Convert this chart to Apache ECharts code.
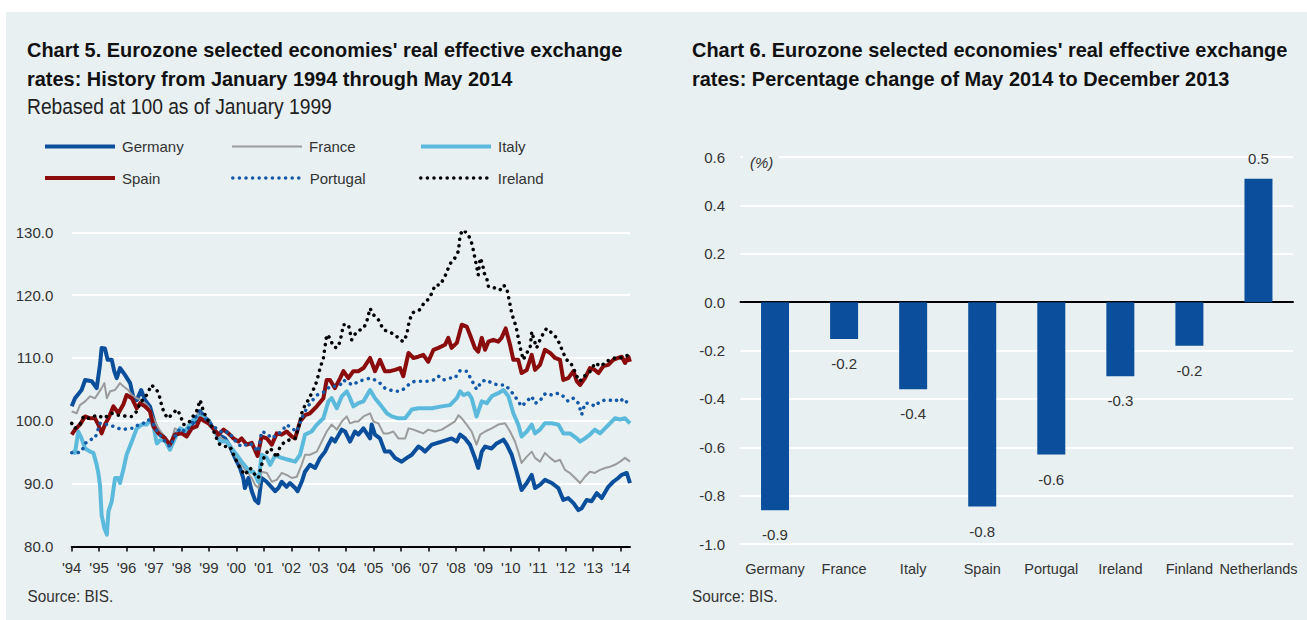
<!DOCTYPE html>
<html>
<head>
<meta charset="utf-8">
<title>Eurozone real effective exchange rates</title>
<script src="https://cdn.jsdelivr.net/npm/echarts@6/dist/echarts.min.js"></script>
<style>
  html, body { margin: 0; padding: 0; background: #fff; }
  #chart { width: 1307px; height: 620px; }
</style>
</head>
<body>
<div id="chart"></div>
<script>
// Chart 5 - REER, Jan 1999 = 100, points as [decimal year, index]
var germany = [[1994.00,102.3],[1994.12,103.6],[1994.36,104.9],[1994.49,106.5],[1994.73,106.3],[1994.91,105.2],[1995.03,108.9],[1995.09,111.6],[1995.21,111.5],[1995.31,109.7],[1995.46,109.7],[1995.55,107.9],[1995.64,106.8],[1995.76,108.4],[1995.94,107.3],[1996.13,106.0],[1996.25,103.6],[1996.37,103.3],[1996.53,104.9],[1996.67,103.3],[1996.85,102.3],[1997.04,99.4],[1997.16,98.3],[1997.40,97.2],[1997.58,95.8],[1997.76,97.8],[1998.01,98.6],[1998.19,98.0],[1998.37,99.4],[1998.55,100.2],[1998.68,101.5],[1998.80,100.7],[1999.00,100.0],[1999.10,99.1],[1999.34,97.8],[1999.59,97.2],[1999.77,95.9],[1999.95,94.1],[2000.13,92.5],[2000.25,90.9],[2000.31,89.3],[2000.44,90.9],[2000.56,88.8],[2000.68,87.4],[2000.80,86.9],[2000.92,90.9],[2001.10,90.3],[2001.41,88.8],[2001.53,89.3],[2001.65,90.3],[2001.83,89.5],[2001.95,90.1],[2002.14,89.3],[2002.23,88.8],[2002.38,90.3],[2002.50,91.9],[2002.68,93.0],[2002.87,92.5],[2003.05,94.1],[2003.23,95.1],[2003.35,96.2],[2003.47,97.2],[2003.59,96.7],[2003.84,98.6],[2003.96,98.3],[2004.14,96.7],[2004.32,98.3],[2004.44,97.8],[2004.63,98.8],[2004.75,98.0],[2004.87,97.2],[2004.93,99.4],[2005.05,97.8],[2005.23,97.2],[2005.41,95.1],[2005.60,95.1],[2005.78,94.1],[2006.02,93.5],[2006.21,94.1],[2006.39,94.6],[2006.63,95.9],[2006.75,95.6],[2006.87,95.1],[2007.12,96.2],[2007.48,96.7],[2007.84,97.2],[2008.03,96.7],[2008.15,97.8],[2008.33,97.2],[2008.51,96.2],[2008.69,94.1],[2008.81,92.5],[2008.94,95.1],[2009.06,95.9],[2009.30,95.6],[2009.48,96.4],[2009.73,97.0],[2009.85,96.2],[2010.03,94.6],[2010.21,91.9],[2010.39,89.0],[2010.58,90.1],[2010.76,91.4],[2010.88,89.3],[2011.06,89.8],[2011.24,90.6],[2011.49,90.1],[2011.73,89.3],[2011.91,87.4],[2012.09,87.7],[2012.28,86.9],[2012.46,85.8],[2012.58,86.1],[2012.76,87.4],[2012.94,87.2],[2013.13,88.5],[2013.31,87.7],[2013.55,89.5],[2013.73,90.3],[2013.91,90.9],[2014.04,91.4],[2014.22,91.7],[2014.34,90.1]];

var france = [[1994.00,101.5],[1994.18,101.2],[1994.30,102.5],[1994.49,103.1],[1994.67,103.9],[1994.85,103.6],[1994.97,104.4],[1995.09,105.2],[1995.19,106.0],[1995.28,103.6],[1995.40,104.7],[1995.58,104.9],[1995.76,106.0],[1995.88,105.5],[1996.06,104.9],[1996.19,104.1],[1996.37,103.6],[1996.55,103.3],[1996.79,102.3],[1996.98,100.4],[1997.16,98.8],[1997.40,97.2],[1997.58,96.2],[1997.76,98.8],[1997.95,98.3],[1998.13,98.6],[1998.31,99.4],[1998.49,100.7],[1998.68,101.5],[1998.86,100.2],[1999.04,99.4],[1999.22,98.6],[1999.46,97.2],[1999.65,96.7],[1999.83,95.6],[2000.01,94.1],[2000.19,93.0],[2000.38,91.9],[2000.56,90.9],[2000.68,89.8],[2000.80,89.3],[2000.92,91.9],[2001.11,91.7],[2001.29,90.3],[2001.47,90.6],[2001.65,91.7],[2001.83,91.4],[2002.02,90.9],[2002.20,91.1],[2002.38,93.0],[2002.50,94.6],[2002.68,94.6],[2002.93,95.1],[2003.11,96.7],[2003.29,98.3],[2003.47,99.4],[2003.66,98.6],[2003.84,99.9],[2004.02,100.7],[2004.14,99.6],[2004.32,99.9],[2004.44,99.9],[2004.63,100.7],[2004.87,101.2],[2004.99,99.9],[2005.17,99.6],[2005.36,98.0],[2005.54,98.0],[2005.72,98.3],[2005.90,97.2],[2006.15,97.2],[2006.27,98.8],[2006.45,98.6],[2006.63,98.3],[2006.81,98.0],[2006.99,98.6],[2007.24,98.3],[2007.48,98.6],[2007.78,99.4],[2007.96,99.9],[2008.09,100.9],[2008.21,100.4],[2008.39,99.4],[2008.57,98.3],[2008.75,96.2],[2008.88,97.8],[2009.06,98.3],[2009.30,98.8],[2009.54,99.4],[2009.79,99.6],[2009.97,98.3],[2010.15,96.7],[2010.27,95.1],[2010.39,93.3],[2010.58,94.3],[2010.76,95.1],[2010.88,94.1],[2011.06,93.5],[2011.24,94.9],[2011.43,94.1],[2011.61,93.5],[2011.79,93.8],[2011.97,92.2],[2012.15,91.7],[2012.34,90.9],[2012.52,90.1],[2012.70,91.1],[2012.88,91.9],[2013.06,91.7],[2013.25,92.2],[2013.43,92.5],[2013.61,92.7],[2013.79,93.0],[2013.98,93.5],[2014.16,94.1],[2014.34,93.5]];

var italy = [[1994.00,95.1],[1994.12,94.9],[1994.24,98.3],[1994.36,97.2],[1994.49,95.6],[1994.67,95.1],[1994.79,94.9],[1994.91,93.0],[1994.97,91.7],[1995.03,89.8],[1995.09,85.0],[1995.19,82.9],[1995.28,81.9],[1995.34,85.6],[1995.46,87.2],[1995.58,90.9],[1995.70,90.9],[1995.76,90.1],[1995.88,92.2],[1996.00,94.6],[1996.19,96.7],[1996.37,98.8],[1996.55,99.4],[1996.73,99.4],[1996.85,100.2],[1996.98,99.1],[1997.10,96.4],[1997.22,96.9],[1997.40,96.9],[1997.58,95.4],[1997.76,97.2],[1997.95,98.8],[1998.13,98.3],[1998.37,99.9],[1998.61,100.7],[1998.80,100.7],[1998.98,99.9],[1999.16,98.8],[1999.40,96.7],[1999.65,96.7],[1999.83,95.6],[2000.01,94.6],[2000.19,93.5],[2000.38,92.5],[2000.50,91.9],[2000.62,91.9],[2000.80,90.3],[2000.92,94.6],[2001.11,94.1],[2001.23,93.0],[2001.41,94.5],[2001.65,94.1],[2001.89,93.8],[2002.14,93.5],[2002.32,94.6],[2002.50,97.8],[2002.74,98.3],[2002.93,99.4],[2003.17,100.4],[2003.35,103.1],[2003.47,103.6],[2003.66,102.0],[2003.84,103.9],[2004.02,104.7],[2004.14,103.6],[2004.26,102.3],[2004.44,102.8],[2004.63,103.1],[2004.87,104.9],[2005.05,103.6],[2005.29,102.3],[2005.48,101.2],[2005.66,100.7],[2005.90,100.4],[2006.15,100.4],[2006.39,101.8],[2006.63,102.0],[2006.87,102.0],[2007.12,102.0],[2007.48,102.3],[2007.78,102.5],[2008.03,103.6],[2008.15,104.7],[2008.27,104.1],[2008.45,104.4],[2008.57,103.6],[2008.75,100.7],[2008.94,103.1],[2009.12,102.8],[2009.30,103.9],[2009.54,104.4],[2009.73,104.9],[2009.91,103.9],[2010.09,101.2],[2010.27,99.4],[2010.39,97.5],[2010.58,98.3],[2010.76,99.4],[2010.88,98.0],[2011.06,98.6],[2011.24,99.6],[2011.49,99.6],[2011.73,99.4],[2011.91,98.0],[2012.15,98.0],[2012.40,97.2],[2012.52,96.7],[2012.70,97.2],[2012.88,97.8],[2013.06,98.6],[2013.25,98.0],[2013.43,98.8],[2013.61,99.6],[2013.79,100.4],[2013.98,100.2],[2014.16,100.4],[2014.34,99.6]];

var spain = [[1994.00,97.8],[1994.12,98.6],[1994.30,99.4],[1994.49,100.7],[1994.67,100.4],[1994.85,100.4],[1994.97,99.4],[1995.09,98.0],[1995.21,99.4],[1995.34,100.4],[1995.52,102.3],[1995.70,101.2],[1995.88,102.6],[1996.00,104.1],[1996.19,103.6],[1996.37,102.0],[1996.49,102.8],[1996.67,102.3],[1996.85,101.5],[1996.98,99.1],[1997.16,98.0],[1997.40,97.2],[1997.58,96.2],[1997.76,97.8],[1998.01,98.0],[1998.19,97.5],[1998.37,98.8],[1998.55,99.1],[1998.68,100.4],[1998.86,99.9],[1998.98,99.6],[1999.16,98.8],[1999.34,97.8],[1999.53,98.6],[1999.71,98.0],[1999.89,97.2],[2000.07,96.7],[2000.19,97.2],[2000.38,96.2],[2000.56,96.5],[2000.77,94.4],[2000.92,97.5],[2001.11,97.2],[2001.29,96.2],[2001.47,98.0],[2001.65,97.8],[2001.83,98.3],[2002.02,97.5],[2002.14,97.2],[2002.32,99.9],[2002.50,100.9],[2002.68,101.2],[2002.93,102.3],[2003.17,103.6],[2003.29,106.5],[2003.41,106.5],[2003.59,105.2],[2003.78,106.8],[2003.90,107.9],[2004.08,106.8],[2004.26,107.9],[2004.44,107.9],[2004.63,108.4],[2004.87,110.0],[2005.05,107.9],[2005.23,109.7],[2005.41,107.9],[2005.60,107.9],[2005.78,108.1],[2005.96,108.4],[2006.08,107.1],[2006.27,110.8],[2006.45,110.0],[2006.63,110.2],[2006.81,110.5],[2006.99,109.4],[2007.18,111.3],[2007.36,111.6],[2007.60,112.1],[2007.72,113.2],[2007.84,111.6],[2008.03,112.4],[2008.21,115.3],[2008.39,115.0],[2008.51,113.7],[2008.69,111.6],[2008.81,111.0],[2008.94,113.2],[2009.06,111.3],[2009.18,112.6],[2009.36,112.9],[2009.54,112.6],[2009.66,113.2],[2009.81,114.7],[2009.97,112.1],[2010.09,109.7],[2010.27,109.7],[2010.39,107.6],[2010.58,108.1],[2010.76,110.5],[2010.88,108.1],[2011.06,108.9],[2011.24,111.3],[2011.43,110.8],[2011.61,110.0],[2011.79,109.7],[2011.91,106.5],[2012.09,106.8],[2012.28,107.9],[2012.40,106.3],[2012.52,105.7],[2012.70,106.8],[2012.88,108.4],[2013.06,108.1],[2013.19,107.6],[2013.37,108.7],[2013.55,108.9],[2013.73,109.7],[2013.91,110.0],[2014.04,110.2],[2014.16,109.2],[2014.28,110.2],[2014.34,109.4]];

var portugal = [[1994.00,94.9],[1994.18,94.9],[1994.36,95.1],[1994.49,96.4],[1994.67,97.0],[1994.85,97.2],[1995.03,99.6],[1995.15,99.4],[1995.34,99.4],[1995.52,99.1],[1995.70,98.8],[1995.88,98.6],[1996.06,98.8],[1996.25,98.8],[1996.43,99.4],[1996.61,99.6],[1996.79,100.2],[1996.98,99.4],[1997.16,98.0],[1997.40,96.7],[1997.58,95.9],[1997.76,97.5],[1997.95,98.8],[1998.13,98.3],[1998.31,99.1],[1998.49,100.4],[1998.68,101.8],[1998.86,100.4],[1998.98,99.9],[1999.16,99.1],[1999.34,98.6],[1999.53,98.0],[1999.71,98.3],[1999.89,97.2],[2000.07,96.2],[2000.25,95.9],[2000.44,96.5],[2000.56,96.2],[2000.80,95.1],[2000.92,98.3],[2001.11,98.0],[2001.29,97.2],[2001.47,97.8],[2001.65,98.3],[2001.83,99.4],[2002.02,98.8],[2002.20,98.3],[2002.38,100.4],[2002.56,102.0],[2002.74,103.1],[2002.93,104.1],[2003.11,104.4],[2003.23,104.7],[2003.41,105.5],[2003.59,105.5],[2003.78,105.7],[2003.90,106.5],[2004.08,106.0],[2004.26,105.7],[2004.44,106.3],[2004.63,106.5],[2004.87,106.8],[2005.05,106.5],[2005.23,106.0],[2005.41,105.2],[2005.60,104.9],[2005.78,104.7],[2005.96,104.7],[2006.15,105.2],[2006.33,106.0],[2006.51,106.3],[2006.75,106.3],[2006.99,106.3],[2007.18,106.5],[2007.36,107.1],[2007.54,106.5],[2007.78,106.8],[2007.96,106.8],[2008.15,108.0],[2008.39,107.9],[2008.57,106.5],[2008.75,105.0],[2008.94,106.3],[2009.12,106.5],[2009.30,106.0],[2009.54,105.7],[2009.79,105.7],[2009.97,104.9],[2010.15,103.9],[2010.39,102.3],[2010.58,103.1],[2010.76,103.9],[2010.88,102.8],[2011.06,103.1],[2011.18,104.1],[2011.30,104.4],[2011.49,104.1],[2011.73,104.4],[2011.91,103.9],[2012.09,103.1],[2012.28,103.6],[2012.46,102.8],[2012.58,101.0],[2012.70,102.8],[2012.88,102.8],[2013.06,102.3],[2013.25,103.1],[2013.43,103.3],[2013.61,103.3],[2013.79,103.1],[2013.98,103.6],[2014.16,102.8],[2014.34,103.6]];

var ireland = [[1994.00,99.6],[1994.12,98.8],[1994.30,99.4],[1994.43,100.7],[1994.61,100.4],[1994.79,100.7],[1994.97,100.9],[1995.15,100.4],[1995.28,100.7],[1995.46,101.2],[1995.64,100.9],[1995.82,100.9],[1996.00,100.7],[1996.19,100.7],[1996.37,101.5],[1996.49,102.8],[1996.73,104.1],[1996.91,105.7],[1997.10,104.9],[1997.22,103.6],[1997.28,102.3],[1997.40,101.0],[1997.52,100.4],[1997.64,101.0],[1997.83,101.8],[1997.95,101.0],[1998.07,99.4],[1998.25,99.6],[1998.37,100.4],[1998.55,101.5],[1998.68,103.3],[1998.80,101.5],[1998.92,100.4],[1999.10,99.1],[1999.28,97.2],[1999.40,96.2],[1999.59,95.9],[1999.77,95.9],[1999.95,94.1],[2000.13,92.5],[2000.31,91.4],[2000.50,92.5],[2000.68,91.4],[2000.80,90.9],[2000.92,93.0],[2001.04,94.6],[2001.23,95.6],[2001.35,95.1],[2001.47,94.1],[2001.59,95.9],[2001.77,96.7],[2001.95,97.0],[2002.14,97.2],[2002.26,98.8],[2002.38,101.2],[2002.50,102.5],[2002.62,103.3],[2002.80,104.9],[2002.93,106.3],[2003.05,108.4],[2003.17,110.0],[2003.29,113.7],[2003.41,113.2],[2003.53,111.8],[2003.66,111.6],[2003.78,112.6],[2003.90,115.3],[2004.08,115.3],[2004.20,112.9],[2004.38,114.2],[2004.63,114.7],[2004.75,115.8],[2004.87,117.9],[2004.99,116.9],[2005.17,116.1],[2005.36,114.5],[2005.54,114.2],[2005.78,113.7],[2005.96,112.9],[2006.08,112.6],[2006.21,113.7],[2006.27,115.3],[2006.39,117.1],[2006.51,117.4],[2006.69,117.7],[2006.87,119.0],[2006.99,119.3],[2007.12,120.3],[2007.24,121.6],[2007.42,121.6],[2007.60,123.0],[2007.72,124.3],[2007.84,125.4],[2007.96,125.9],[2008.09,127.0],[2008.15,129.6],[2008.27,130.4],[2008.45,129.6],[2008.57,128.3],[2008.63,127.2],[2008.69,125.9],[2008.75,124.6],[2008.81,123.2],[2008.88,125.9],[2008.96,125.1],[2009.03,123.5],[2009.12,122.7],[2009.18,121.4],[2009.30,121.4],[2009.42,121.1],[2009.60,120.8],[2009.73,121.6],[2009.85,121.1],[2009.97,118.5],[2010.03,117.1],[2010.15,115.5],[2010.21,114.5],[2010.27,113.2],[2010.33,111.8],[2010.39,110.8],[2010.45,109.7],[2010.58,110.8],[2010.70,111.6],[2010.76,114.2],[2010.82,113.2],[2010.94,111.6],[2011.06,112.9],[2011.18,113.9],[2011.30,114.7],[2011.49,114.0],[2011.67,113.2],[2011.79,112.1],[2011.91,110.8],[2012.03,109.7],[2012.15,109.4],[2012.28,108.4],[2012.40,107.1],[2012.52,106.3],[2012.64,107.1],[2012.76,107.3],[2012.94,108.1],[2013.06,109.2],[2013.19,108.9],[2013.31,108.7],[2013.43,109.4],[2013.61,109.7],[2013.79,110.0],[2013.98,110.0],[2014.16,110.2],[2014.28,110.5],[2014.34,110.2]];

var yearTicks = [1994, 1995, 1996, 1997, 1998, 1999, 2000, 2001, 2002, 2003, 2004, 2005, 2006, 2007, 2008, 2009, 2010, 2011, 2012, 2013, 2014];

// Chart 6 - % change May 2014 vs Dec 2013
var countries = ['Germany', 'France', 'Italy', 'Spain', 'Portugal', 'Ireland', 'Finland', 'Netherlands'];
var pctChange = [-0.86, -0.152, -0.36, -0.845, -0.63, -0.306, -0.18, 0.51];

var FONT = "'Liberation Sans', Arial, sans-serif";
var BG = '#e8f0f2';
var TXT = '#333';

var lines = [
  { name: 'Germany', data: germany, color: '#0b4f9c', width: 4 },
  { name: 'France', data: france, color: '#9b9b9b', width: 2 },
  { name: 'Italy', data: italy, color: '#5bbadb', width: 4 },
  { name: 'Spain', data: spain, color: '#8a0c0c', width: 4 },
  { name: 'Portugal', data: portugal, color: '#1459a8', width: 3.5, dots: true },
  { name: 'Ireland', data: ireland, color: '#000', width: 3.5, dots: true }
];

var chart = echarts.init(document.getElementById('chart'), null, { renderer: 'svg' });

// narrow look: real fonts are squeezed a little with scaleX
function txt (text, x, y, size, sx, extra) {
  return {
    type: 'text', x: x, y: y, z: 10, scaleX: sx,
    style: Object.assign({
      text: text, fontFamily: FONT, fontSize: size, fill: TXT, verticalAlign: 'middle'
    }, extra || {})
  }
}

var bold = { fontWeight: 'bold', fill: '#111' };

var option = {
  animation: false,
  backgroundColor: BG,
  graphic: [
    { type: 'rect', shape: { x: 0, y: 0, width: 1307, height: 12 }, style: { fill: '#fff' } },
    { type: 'rect', shape: { x: 0, y: 0, width: 6, height: 620 }, style: { fill: '#fff' } },
    { type: 'rect', z: 10, shape: { x: 743, y: 153, width: 36, height: 8 }, style: { fill: BG } },
    txt("Chart 5. Eurozone selected economies' real effective exchange", 27, 49.5, 21, 0.95, bold),
    txt('rates: History from January 1994 through May 2014', 27, 78, 21, 0.95, bold),
    txt('Rebased at 100 as of January 1999', 27, 106.5, 22, 0.875, { fill: '#222' }),
    txt("Chart 6. Eurozone selected economies' real effective exchange", 692, 49.5, 21, 0.95, bold),
    txt('rates: Percentage change of May 2014 to December 2013', 692, 78, 21, 0.95, bold),
    txt('Source: BIS.', 27.5, 596, 17, 0.9),
    txt('Source: BIS.', 692, 596, 17, 0.9),
    txt('(%)', 750, 162.5, 15, 1, { fontStyle: 'italic' })
  ],
  legend: lines.map(function (s, i) {
    return {
      data: [s.name],
      left: 43 + (i % 3) * 188,
      top: 139 + Math.floor(i / 3) * 31.5,
      padding: 0,
      itemWidth: 70,
      itemHeight: 16,
      itemGap: 0,
      selectedMode: false,
      lineStyle: { width: s.width },
      itemStyle: { opacity: 0 },
      textStyle: { fontFamily: FONT, fontSize: 15, color: TXT, padding: [0, 0, 0, 2] }
    }
  }),
  grid: [
    { left: 71.7, top: 232.3, width: 558.3, height: 314.2 },
    { left: 740.5, top: 157, width: 552.5, height: 387 }
  ],
  xAxis: [
    {
      gridIndex: 0, type: 'value', min: 1994, max: 2014.34, interval: 1,
      axisLine: { lineStyle: { color: '#000', width: 2 } },
      axisTick: { length: 5, lineStyle: { color: '#000', width: 1.5 }, customValues: yearTicks },
      axisLabel: {
        customValues: yearTicks, margin: 13, color: TXT, fontSize: 15, fontFamily: FONT,
        formatter: function (v) { return v % 1 === 0 ? "'" + String(v).slice(2) : '' }
      },
      splitLine: { show: false }
    },
    {
      gridIndex: 1, type: 'category', data: countries,
      axisLine: { onZero: true, lineStyle: { color: '#000', width: 2 } },
      axisTick: { length: 6, lineStyle: { color: '#000', width: 1.5 } },
      axisLabel: { show: false },
      splitLine: { show: false }
    },
    {
      gridIndex: 1, type: 'category', data: countries, position: 'bottom',
      axisLine: { show: false, onZero: false },
      axisTick: { show: false },
      axisLabel: { margin: 17, color: TXT, fontSize: 14.5, fontFamily: FONT, interval: 0 },
      splitLine: { show: false }
    }
  ],
  yAxis: [
    {
      gridIndex: 0, type: 'value', min: 80, max: 130, interval: 10,
      axisLine: { show: false }, axisTick: { show: false },
      axisLabel: { margin: 18.4, color: TXT, fontSize: 15, fontFamily: FONT, formatter: function (v) { return v.toFixed(1) } },
      splitLine: { lineStyle: { color: '#fff', width: 2 } }
    },
    {
      gridIndex: 1, type: 'value', min: -1, max: 0.6, interval: 0.2,
      axisLine: { show: false }, axisTick: { show: false },
      axisLabel: { margin: 15.5, color: TXT, fontSize: 15, fontFamily: FONT, formatter: function (v) { return v.toFixed(1) } },
      splitLine: { lineStyle: { color: '#fff', width: 2 } }
    }
  ],
  series: lines.map(function (s) {
    return {
      name: s.name, type: 'line', xAxisIndex: 0, yAxisIndex: 0,
      data: s.data, symbol: 'none', silent: true,
      lineStyle: s.dots
        ? { color: s.color, width: s.width, type: [0.1, 6.5], cap: 'round' }
        : { color: s.color, width: s.width, join: 'round' },
      itemStyle: { color: s.color }
    }
  }).concat([{
    name: 'change', type: 'bar', xAxisIndex: 1, yAxisIndex: 1, barWidth: 28, silent: true,
    itemStyle: { color: '#0b4f9c' },
    label: {
      show: true, color: TXT, fontSize: 15, fontFamily: FONT,
      formatter: function (p) { return p.value.toFixed(1) }
    },
    data: pctChange.map(function (v) {
      return { value: v, label: { position: v < 0 ? 'bottom' : 'top', distance: v < 0 ? 17 : 13 } }
    })
  }])
};

chart.setOption(option);
</script>
</body>
</html>
